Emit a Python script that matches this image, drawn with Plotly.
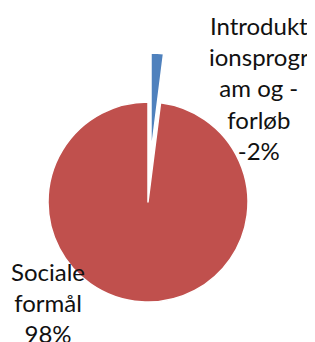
import plotly.graph_objects as go

# Data
categories = ["Introduktionsprogram og -forløb", "Sociale formål"]
label_lines = [["Introdukt", "ionsprogr", "am og -", "forløb"], ["Sociale", "formål"]]
shares = [-2, 98]  # percent, as displayed
colors = ["#4F81BD", "#C0504D"]

# page body has an 8px default margin; size the figure so it fits the window
OFF = 8
W, H = 315 - OFF, 342 - OFF
sizes = [abs(v) for v in shares]

def dom(cx, cy, r):
    cx -= OFF
    cy -= OFF
    return dict(x=[max(0, (cx - r) / W), min(1, (cx + r) / W)],
                y=[max(0, 1 - (cy + r) / H), min(1, 1 - (cy - r) / H)])

fig = go.Figure()
# main pie (red slice visible)
fig.add_trace(go.Pie(
    labels=categories, values=sizes, sort=False, direction="clockwise", rotation=0,
    marker=dict(colors=["rgba(0,0,0,0)", colors[1]], line=dict(color="white", width=[0, 1.5])),
    textinfo="none", hoverinfo="label+percent", showlegend=False,
    domain=dom(148, 202, 100),
))
# exploded slice (blue)
fig.add_trace(go.Pie(
    labels=categories, values=sizes, sort=False, direction="clockwise", rotation=0,
    marker=dict(colors=[colors[0], "rgba(0,0,0,0)"], line=dict(color="white", width=[1.5, 0])),
    textinfo="none", hoverinfo="label+percent", showlegend=False,
    domain=dom(151, 153, 100),
))

label_pos = [(259, 88), (48, 302)]
for lines, v, (x, y) in zip(label_lines, shares, label_pos):
    fig.add_annotation(
        text="<br>".join(lines + [f"{v}%"]),
        x=(x - OFF) / W, y=1 - (y - OFF) / H, xref="paper", yref="paper",
        xanchor="center", yanchor="middle", showarrow=False, align="center",
        font=dict(family="Lato", size=24, color="#111111"),
    )

fig.update_layout(
    width=W, height=H, margin=dict(l=0, r=0, t=0, b=0),
    paper_bgcolor="white", plot_bgcolor="white",
)
fig.write_html("out.html")
